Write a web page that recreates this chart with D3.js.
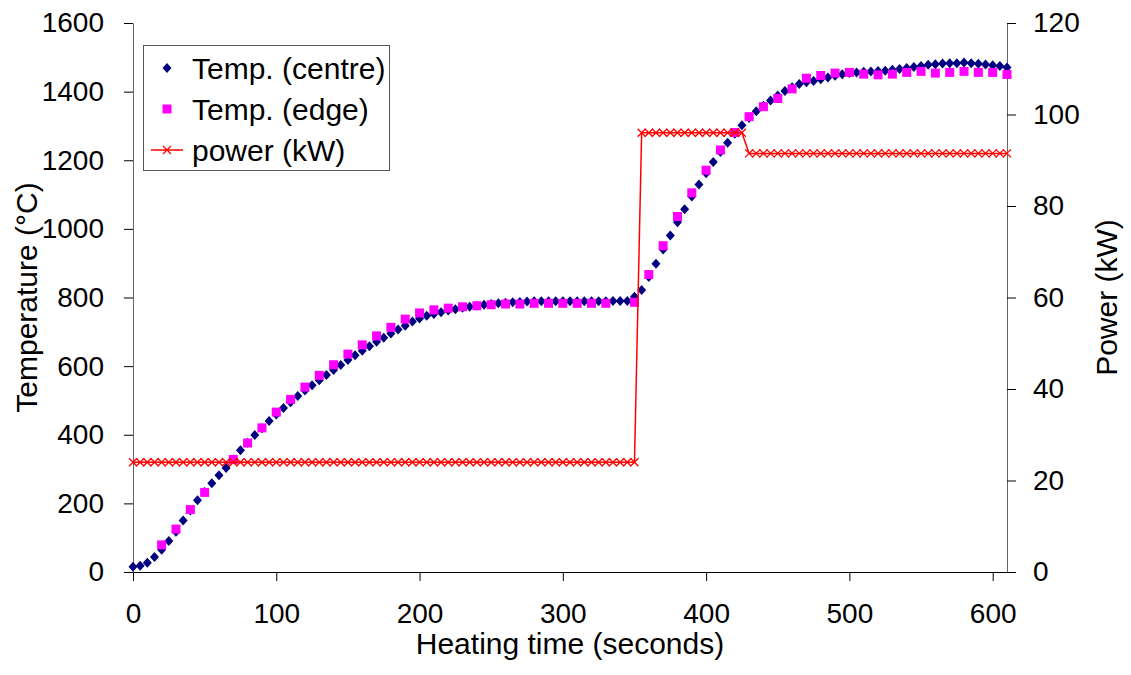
<!DOCTYPE html>
<html>
<head>
<meta charset="utf-8">
<script src="https://cdn.jsdelivr.net/npm/d3@7"></script>
<style>
  body { margin: 0; background: #fff; }
  text { font-family: "Liberation Sans", Arial, sans-serif; fill: #000; }
</style>
</head>
<body>
<div id="canvas"></div>
<script>
// sampling times (s) shared by the centre thermocouple and the power log
const timeSec = [0, 5, 10, 15, 20, 25, 30, 35, 40, 45, 50, 55, 60, 65, 70, 75, 80, 85, 90, 95,
  100, 105, 110, 115, 120, 125, 130, 135, 140, 145, 150, 155, 160, 165, 170, 175, 180, 185, 190, 195,
  200, 205, 210, 215, 220, 225, 230, 235, 240, 245, 250, 255, 260, 265, 270, 275, 280, 285, 290, 295,
  300, 305, 310, 315, 320, 325, 330, 335, 340, 345, 350, 355, 360, 365, 370, 375, 380, 385, 390, 395,
  400, 405, 410, 415, 420, 425, 430, 435, 440, 445, 450, 455, 460, 465, 470, 475, 480, 485, 490, 495,
  500, 505, 510, 515, 520, 525, 530, 535, 540, 545, 550, 555, 560, 565, 570, 575, 580, 585, 590, 595,
  600, 605, 610];

const centreTemp = [15, 18, 27, 44, 65, 90, 117, 150, 179, 209,
  233, 259, 282, 303, 328, 355, 377, 399, 419, 440,
  459, 478, 495, 513, 529, 544, 559, 574, 589, 603,
  618, 632, 645, 658, 671, 683, 695, 707, 718, 730,
  739, 747, 752, 757, 762, 766, 770, 773, 776, 779,
  781, 783, 785, 786, 787, 788, 789, 789, 789, 789,
  789, 789, 789, 789, 789, 789, 789, 790, 790, 790,
  802, 822, 860, 898, 940, 981, 1019, 1057, 1094, 1129,
  1162, 1195, 1224, 1251, 1277, 1302, 1323, 1343, 1359, 1374,
  1389, 1402, 1413, 1422, 1427, 1431, 1436, 1441, 1446, 1451,
  1454, 1456, 1458, 1459, 1460, 1461, 1464, 1466, 1469, 1472,
  1475, 1478, 1480, 1482, 1483, 1483, 1485, 1483, 1481, 1479,
  1477, 1475, 1470];

const edgeTime = [20, 30, 40, 50, 70, 80, 90, 100, 110, 120, 130, 140, 150, 160, 170, 180, 190,
  200, 210, 220, 230, 240, 250, 260, 270, 280, 290, 300, 310, 320, 330, 350, 360, 370, 380, 390,
  400, 410, 420, 430, 440, 450, 460, 470, 480, 490, 500, 510, 520, 530, 540, 550, 560, 570, 580,
  590, 600, 610];

const edgeTemp = [79, 125, 182, 232, 328, 376, 420, 466, 503, 539, 573, 604, 635, 662, 688, 713, 737,
  755, 764, 769, 773, 776, 779, 781, 781, 783, 783, 783, 783, 783, 783, 786, 867, 951, 1036, 1105,
  1171, 1230, 1281, 1327, 1356, 1380, 1408, 1439, 1447, 1454, 1456, 1451, 1449, 1451, 1456, 1459, 1454, 1456, 1459,
  1456, 1456, 1450];

const powerKW = [24, 24, 24, 24, 24, 24, 24, 24, 24, 24, 24, 24, 24, 24, 24, 24, 24, 24, 24, 24,
  24, 24, 24, 24, 24, 24, 24, 24, 24, 24, 24, 24, 24, 24, 24, 24, 24, 24, 24, 24,
  24, 24, 24, 24, 24, 24, 24, 24, 24, 24, 24, 24, 24, 24, 24, 24, 24, 24, 24, 24,
  24, 24, 24, 24, 24, 24, 24, 24, 24, 24, 24, 96, 96, 96, 96, 96, 96, 96, 96, 96,
  96, 96, 96, 96, 96, 96, 91.5, 91.5, 91.5, 91.5, 91.5, 91.5, 91.5, 91.5, 91.5, 91.5,
  91.5, 91.5, 91.5, 91.5, 91.5, 91.5, 91.5, 91.5, 91.5, 91.5, 91.5, 91.5, 91.5, 91.5, 91.5, 91.5,
  91.5, 91.5, 91.5, 91.5, 91.5, 91.5, 91.5, 91.5, 91.5, 91.5, 91.5];

const xTicks = [0, 100, 200, 300, 400, 500, 600];
const tempTicks = [0, 200, 400, 600, 800, 1000, 1200, 1400, 1600];
const powerTicks = [0, 20, 40, 60, 80, 100, 120];
const legendLabels = ["Temp. (centre)", "Temp. (edge)", "power (kW)"];

const width = 1131;
const height = 675;
const margin = { top: 23, left: 133, bottom: 103, right: 124 };
const iwidth = width - margin.left - margin.right;
const iheight = height - margin.top - margin.bottom;

const svg = d3.select("#canvas").append("svg")
  .attr("width", width)
  .attr("height", height);

const g = svg.append("g").attr("transform", `translate(${margin.left},${margin.top})`);

const x = d3.scaleLinear().domain([0, 610]).range([0, iwidth]);
const y = d3.scaleLinear().domain([0, 1600]).range([iheight, 0]);
const y2 = d3.scaleLinear().domain([0, 120]).range([iheight, 0]);
const fmt = d3.format("d");

// axes
const xAxis = g.append("g")
  .attr("transform", `translate(0,${iheight})`)
  .call(d3.axisBottom(x).tickValues(xTicks).tickFormat(fmt).tickSize(9).tickPadding(22).tickSizeOuter(0));
const yAxis = g.append("g")
  .call(d3.axisLeft(y).tickValues(tempTicks).tickFormat(fmt).tickSize(9).tickPadding(20).tickSizeOuter(0));
const y2Axis = g.append("g")
  .attr("transform", `translate(${iwidth},0)`)
  .call(d3.axisRight(y2).tickValues(powerTicks).tickFormat(fmt).tickSize(9).tickPadding(17).tickSizeOuter(0));

[xAxis, yAxis, y2Axis].forEach(a => {
  a.selectAll("text").style("font-size", "28px").attr("fill", "#000");
  a.selectAll("line").attr("stroke", "#000");
  a.select(".domain").attr("stroke", "#666");
});
xAxis.select(".domain").attr("stroke", "#000");

// axis titles
svg.append("text")
  .attr("x", margin.left + iwidth / 2)
  .attr("y", 654)
  .attr("text-anchor", "middle")
  .style("font-size", "30px")
  .text("Heating time (seconds)");

svg.append("text")
  .attr("transform", `translate(37,${margin.top + iheight / 2}) rotate(-90)`)
  .attr("text-anchor", "middle")
  .style("font-size", "30px")
  .text("Temperature (°C)");

svg.append("text")
  .attr("transform", `translate(1117,${margin.top + iheight / 2}) rotate(-90)`)
  .attr("text-anchor", "middle")
  .style("font-size", "30px")
  .text("Power (kW)");

// marker shapes
const diamond = "M0,-5L4.5,0L0,5L-4.5,0Z";
const cross = "M-4,-4L4,4M-4,4L4,-4";

const centre = timeSec.map((t, i) => ({ t: t, v: centreTemp[i] }));
const edge = edgeTime.map((t, i) => ({ t: t, v: edgeTemp[i] }));
const power = timeSec.map((t, i) => ({ t: t, v: powerKW[i] }));

g.append("g").selectAll("path").data(centre).enter().append("path")
  .attr("d", diamond)
  .attr("transform", d => `translate(${x(d.t)},${y(d.v)})`)
  .attr("fill", "#000080");

g.append("g").selectAll("rect").data(edge).enter().append("rect")
  .attr("x", d => x(d.t) - 4.5)
  .attr("y", d => y(d.v) - 4.5)
  .attr("width", 9)
  .attr("height", 9)
  .attr("fill", "#ff00ff");

g.append("path")
  .datum(power)
  .attr("fill", "none")
  .attr("stroke", "#ff0000")
  .attr("stroke-width", 1.5)
  .attr("d", d3.line().x(d => x(d.t)).y(d => y2(d.v)));

g.append("g").selectAll("path").data(power).enter().append("path")
  .attr("d", cross)
  .attr("transform", d => `translate(${x(d.t)},${y2(d.v)})`)
  .attr("fill", "none")
  .attr("stroke", "#ff0000")
  .attr("stroke-width", 1.3);

// legend
const legend = svg.append("g").attr("transform", "translate(143,45)");
legend.append("rect")
  .attr("x", 0.5).attr("y", 0.5)
  .attr("width", 246).attr("height", 125)
  .attr("fill", "#fff")
  .attr("stroke", "#555");

legendLabels.forEach((label, i) => {
  const cy = 23 + i * 41;
  if (i === 0) {
    legend.append("path").attr("d", diamond).attr("transform", `translate(24,${cy})`).attr("fill", "#000080");
  } else if (i === 1) {
    legend.append("rect").attr("x", 19.5).attr("y", cy - 4.5).attr("width", 9).attr("height", 9).attr("fill", "#ff00ff");
  } else {
    legend.append("line").attr("x1", 8).attr("x2", 40).attr("y1", cy).attr("y2", cy)
      .attr("stroke", "#ff0000").attr("stroke-width", 1.5);
    legend.append("path").attr("d", cross).attr("transform", `translate(24,${cy})`)
      .attr("fill", "none").attr("stroke", "#ff0000").attr("stroke-width", 1.3);
  }
  legend.append("text")
    .attr("x", 49)
    .attr("y", cy + 10.5)
    .style("font-size", "30px")
    .text(label);
});
</script>
</body>
</html>
